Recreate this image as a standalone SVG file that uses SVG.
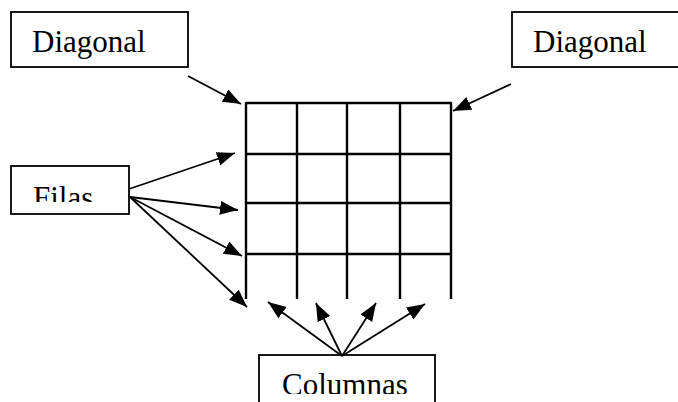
<svg xmlns="http://www.w3.org/2000/svg" width="678" height="402" viewBox="0 0 678 402">
<style>
.box{fill:#fff;stroke:#000;stroke-width:1.8}
.lbl{font-family:"Liberation Serif","Times New Roman",serif;font-size:31px;fill:#000}
.grid line{stroke:#000;stroke-width:2.4}
.conn line{stroke:#000;stroke-width:1.8;marker-end:url(#ah)}
</style>
<defs>
<marker id="ah" markerUnits="userSpaceOnUse" markerWidth="19" markerHeight="15" refX="18" refY="7" orient="auto">
<path d="M0,0 L18,7 L0,14 z" fill="#000"/>
</marker>
<clipPath id="cf"><rect x="0" y="160" width="140" height="42"/></clipPath>
<clipPath id="cc"><rect x="250" y="350" width="200" height="44"/></clipPath>
</defs>
<rect width="678" height="402" fill="#fff"/>
<g id="diag-left">
<rect class="box" x="11" y="12" width="177" height="55"/>
<text class="lbl" x="32" y="52">Diagonal</text>
</g>
<g id="diag-right">
<rect class="box" x="512" y="12" width="180" height="55"/>
<text class="lbl" x="533" y="52">Diagonal</text>
</g>
<g id="filas">
<rect class="box" x="11" y="166" width="118" height="48"/>
<text class="lbl" x="33" y="207.5" clip-path="url(#cf)">Filas</text>
</g>
<g id="columnas">
<rect class="box" x="259" y="355" width="176" height="60"/>
<text class="lbl" x="282" y="394.5" clip-path="url(#cc)">Columnas</text>
</g>
<g id="matrix" class="grid">
<line x1="246" y1="103" x2="451" y2="103"/>
<line x1="246" y1="154" x2="451" y2="154"/>
<line x1="246" y1="203" x2="451" y2="203"/>
<line x1="246" y1="254" x2="451" y2="254"/>
<line x1="246" y1="102" x2="246" y2="299"/>
<line x1="297" y1="102" x2="297" y2="299"/>
<line x1="347" y1="102" x2="347" y2="299"/>
<line x1="400" y1="102" x2="400" y2="299"/>
<line x1="451" y1="102" x2="451" y2="299"/>
</g>
<g id="connectors" class="conn">
<line x1="188" y1="76" x2="241" y2="104"/>
<line x1="511" y1="84" x2="453" y2="111"/>
<line x1="129" y1="189" x2="235" y2="153"/>
<line x1="130" y1="197" x2="238" y2="210"/>
<line x1="130" y1="197" x2="242" y2="256"/>
<line x1="130" y1="197" x2="247" y2="307"/>
<line x1="342" y1="356" x2="268" y2="302"/>
<line x1="342" y1="356" x2="316" y2="303"/>
<line x1="342" y1="356" x2="376" y2="303"/>
<line x1="342" y1="356" x2="425" y2="304"/>
</g>
</svg>
